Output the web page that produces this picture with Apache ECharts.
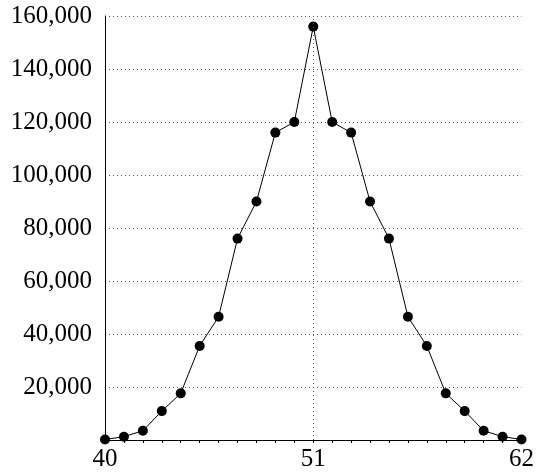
<!DOCTYPE html>
<html>
<head>
<meta charset="utf-8">
<script src="https://cdn.jsdelivr.net/npm/echarts@6/dist/echarts.min.js"></script>
<style>html,body{margin:0;padding:0;background:#fff}#c{width:537px;height:475px}</style>
</head>
<body>
<div id="c"></div>
<script>
var xValues = [40,41,42,43,44,45,46,47,48,49,50,51,52,53,54,55,56,57,58,59,60,61,62];
var yValues = [200,1250,3500,10900,17600,35500,46500,76000,90000,116000,120000,156000,120000,116000,90000,76000,46500,35500,17600,10900,3500,1250,200];
var xTickLabels = [40, 51, 62];
var yTickStep = 20000;

var chart = echarts.init(document.getElementById('c'), null, {renderer: 'canvas'});
var font = '"Liberation Serif", serif';
chart.setOption({
  animation: false,
  backgroundColor: '#fff',
  grid: {left: 105, right: 15, top: 16, bottom: 35, containLabel: false},
  xAxis: {
    type: 'value', min: 40, max: 62, interval: 11,
    axisLine: {show: true, onZero: false, lineStyle: {color: '#000', width: 1}},
    axisTick: {show: true, length: 3, lineStyle: {color: '#000'}},
    minorTick: {show: true, splitNumber: 11, length: 3, lineStyle: {color: '#000'}},
    axisLabel: {color: '#000', fontFamily: font, fontSize: 25, margin: 7,
      formatter: function (v) { return xTickLabels.indexOf(v) >= 0 ? String(v) : ''; }},
    splitLine: {show: false}
  },
  yAxis: {
    type: 'value', min: 0, max: 160000, interval: yTickStep,
    axisLine: {show: true, lineStyle: {color: '#000', width: 1}},
    axisTick: {show: false},
    axisLabel: {color: '#000', fontFamily: font, fontSize: 25, margin: 13,
      formatter: function (v) { return v === 0 ? '' : v.toLocaleString('en-US'); }},
    splitLine: {show: true, lineStyle: {color: '#555', width: 1, type: [1, 3]}}
  },
  series: [{
    type: 'line',
    data: xValues.map(function (x, i) { return [x, yValues[i]]; }),
    symbol: 'circle', symbolSize: 10,
    itemStyle: {color: '#000'},
    lineStyle: {color: '#000', width: 1},
    clip: false,
    markLine: {
      silent: true, symbol: 'none', label: {show: false},
      lineStyle: {color: '#555', width: 1, type: [1, 3]},
      data: [{xAxis: 51}]
    }
  }]
});
</script>
</body>
</html>
